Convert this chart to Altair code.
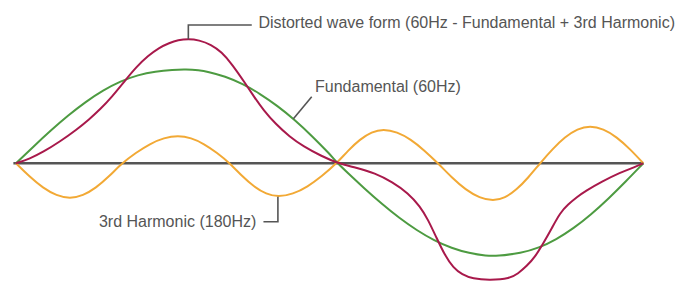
import altair as alt
import pandas as pd

# Phase (degrees) and amplitude (fundamental peak ~ 1.0)
GREEN_DEG = [0, 10, 20, 30, 40, 50, 60, 70, 80, 90, 97.6, 105, 110, 120, 130, 140, 150, 160, 170,
             180, 184.6, 190, 200, 210, 220, 230, 240, 250, 260, 270, 276, 290, 300, 310, 320,
             330, 340, 350, 360]
GREEN_VAL = [0, 0.179, 0.352, 0.513, 0.658, 0.781, 0.878, 0.945, 0.983, 1.0, 1.005, 0.995, 0.98,
             0.93, 0.85, 0.745, 0.615, 0.465, 0.29, 0.10, 0, -0.096, -0.270, -0.435, -0.586,
             -0.717, -0.826, -0.908, -0.962, -0.989, -0.992, -0.96, -0.905, -0.815, -0.695,
             -0.548, -0.378, -0.193, 0]

RED_DEG = [0, 8, 15.5, 25, 34.8, 42, 48.2, 55, 62.6, 69, 75.8, 82, 88, 93, 98.9, 105, 112, 118, 124,
           131.4, 137, 142, 149, 157, 165, 175, 184.6, 195, 206, 216, 225, 231.9, 236.4, 241.4,
           246, 251, 256, 262, 272, 283.5, 288, 293.1, 297.9, 302.6, 307.6, 312.2, 316.8, 322,
           326.5, 336.3, 346.6, 355.2, 360]
RED_VAL = [0, 0.05, 0.12, 0.23, 0.36, 0.47, 0.575, 0.71, 0.885, 1.03, 1.15, 1.235, 1.288, 1.318,
           1.33, 1.318, 1.27, 1.19, 1.06, 0.86, 0.70, 0.57, 0.42, 0.285, 0.18, 0.08, 0, -0.045,
           -0.104, -0.20, -0.318, -0.46, -0.60, -0.80, -0.98, -1.12, -1.19, -1.235, -1.25,
           -1.232, -1.18, -1.10, -1.0, -0.856, -0.69, -0.53, -0.44, -0.36, -0.30, -0.195,
           -0.10, -0.04, 0]

ORANGE_DEG = [0, 7.75, 15.5, 23.25, 31.0, 38.4, 45.85, 53.3, 60.7,
              68.8, 76.85, 84.9, 93.0, 100.45, 107.9, 115.35, 122.8,
              129.7, 136.65, 143.6, 150.5, 158.9, 167.25, 175.6, 184.0,
              190.7, 197.4, 204.1, 210.8, 218.65, 226.5, 234.35, 242.2,
              250.1, 258.05, 266.0, 273.9, 280.6, 287.3, 294.0, 300.7,
              307.9, 315.05, 322.2, 329.4, 337.05, 344.7, 352.35, 360]
ORANGE_VAL = [0, -0.143, -0.264, -0.346, -0.378, -0.346, -0.264, -0.143, 0,
              0.113, 0.209, 0.273, 0.297, 0.273, 0.209, 0.113, 0,
              -0.137, -0.252, -0.330, -0.36, -0.330, -0.252, -0.137, 0,
              0.139, 0.257, 0.336, 0.367, 0.336, 0.257, 0.139, 0,
              -0.153, -0.283, -0.370, -0.403, -0.370, -0.283, -0.153, 0,
              0.153, 0.282, 0.369, 0.402, 0.369, 0.282, 0.153, 0]

LABELS = ["Distorted wave form (60Hz - Fundamental + 3rd Harmonic)",
          "Fundamental (60Hz)",
          "3rd Harmonic (180Hz)"]
LABEL_X = [139.1, 171.6, 47.6]
LABEL_Y = [1.501, 0.819, -0.625]

LEADER_ID = [1, 1, 1, 2, 2, 3, 3, 3]
LEADER_X = [98.9, 98.9, 135.3, 159.2, 169.7, 142.0, 150.3, 150.3]
LEADER_Y = [1.326, 1.479, 1.479, 0.477, 0.712, -0.625, -0.625, -0.357]

BASE_X = [-1.5]
BASE_X2 = [360]
BASE_Y = [0]

GREEN = "#4d9b41"
RED = "#a8194b"
ORANGE = "#f2a935"
GREY = "#555555"

x_scale = alt.Scale(domain=[-4.59, 379.9], nice=False, zero=False)
y_scale = alt.Scale(domain=[-1.2695, 1.661], nice=False, zero=False)


def wave(deg, val, color):
    df = pd.DataFrame({"deg": deg, "val": val, "i": list(range(len(deg)))})
    return alt.Chart(df).mark_line(color=color, strokeWidth=2, interpolate="basis").encode(
        x=alt.X("deg:Q", scale=x_scale, axis=None),
        y=alt.Y("val:Q", scale=y_scale, axis=None),
        order=alt.Order("i:Q"),
    )


base = alt.Chart(pd.DataFrame({"x": BASE_X, "x2": BASE_X2, "y": BASE_Y})).mark_rule(
    color=GREY, strokeWidth=2.5
).encode(
    x=alt.X("x:Q", scale=x_scale, axis=None),
    x2="x2:Q",
    y=alt.Y("y:Q", scale=y_scale, axis=None),
)

leaders_df = pd.DataFrame({"id": LEADER_ID, "x": LEADER_X, "y": LEADER_Y,
                           "i": list(range(len(LEADER_X)))})
leaders = alt.Chart(leaders_df).mark_line(color=GREY, strokeWidth=1.6).encode(
    x=alt.X("x:Q", scale=x_scale, axis=None),
    y=alt.Y("y:Q", scale=y_scale, axis=None),
    detail="id:N",
    order=alt.Order("i:Q"),
)

labels = alt.Chart(pd.DataFrame({"t": LABELS, "x": LABEL_X, "y": LABEL_Y})).mark_text(
    align="left", baseline="middle", font="Liberation Sans", fontSize=16, color=GREY
).encode(
    x=alt.X("x:Q", scale=x_scale, axis=None),
    y=alt.Y("y:Q", scale=y_scale, axis=None),
    text="t:N",
)

chart = alt.layer(
    base,
    wave(ORANGE_DEG, ORANGE_VAL, ORANGE),
    wave(GREEN_DEG, GREEN_VAL, GREEN),
    wave(RED_DEG, RED_VAL, RED),
    leaders,
    labels,
).properties(
    width=670, height=274, padding=0,
    autosize=alt.AutoSizeParams(type="none"),
    background="white",
).configure_view(stroke=None)

chart.save("out.html", embed_options={"renderer": "svg", "actions": False})
